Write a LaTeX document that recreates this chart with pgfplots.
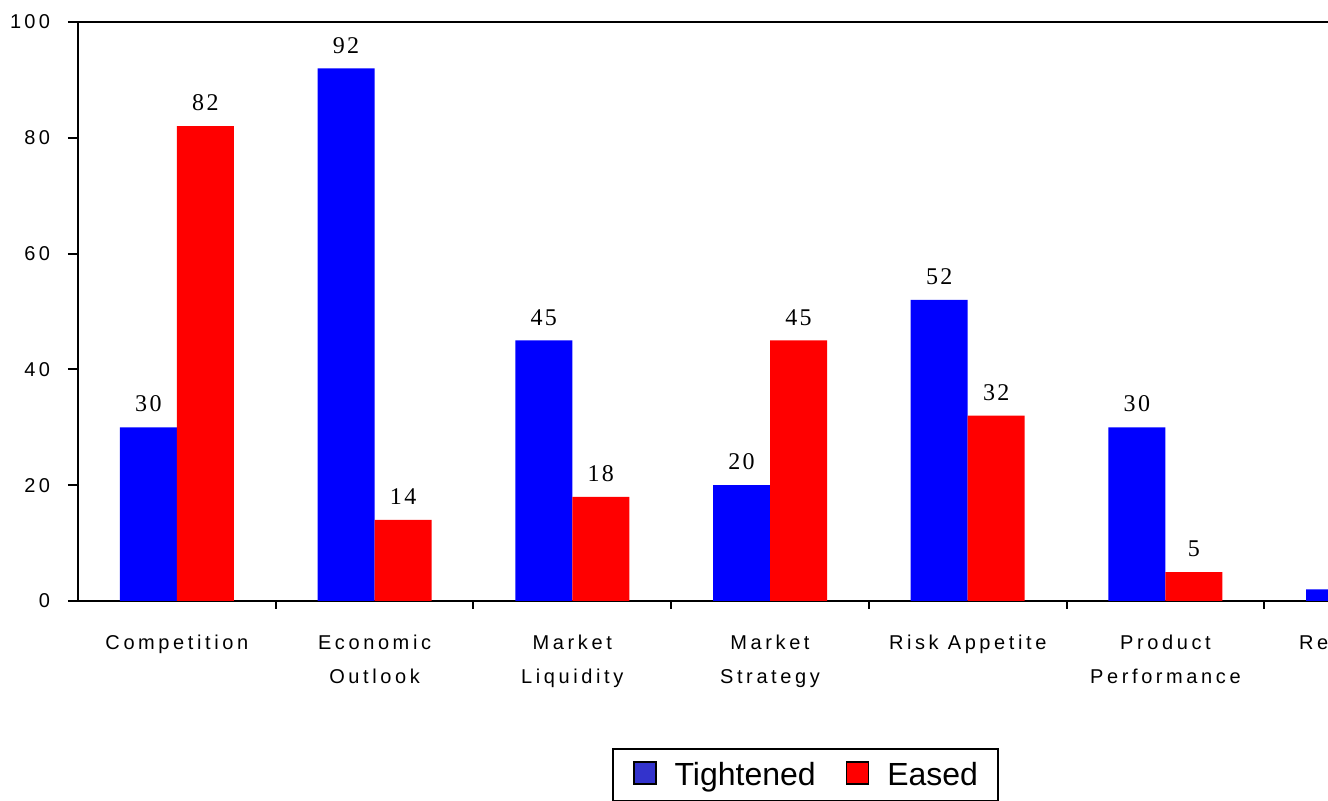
\documentclass[border=0pt]{standalone}
\usepackage{fontspec}
\setmainfont{Liberation Sans}
\newfontfamily\tickfont{Liberation Sans}[LetterSpace=18]
\newfontfamily\ytickfont{Liberation Sans}[LetterSpace=16]
\newfontfamily\valfont{Liberation Serif}[LetterSpace=10]
\usepackage{pgfplots}
\pgfplotsset{compat=1.18}
\definecolor{barblue}{RGB}{0,0,255}
\definecolor{barred}{RGB}{255,0,0}
\definecolor{legblue}{RGB}{51,51,204}
\begin{document}
\begin{tikzpicture}
\begin{axis}[
  at={(39pt,100pt)}, anchor=south west,
  scale only axis, width=692pt, height=289.5pt,
  ybar, bar width=28.5pt,
  xmin=-0.5, xmax=6.5, ymin=0, ymax=100,
  ytick={0,20,...,100},
  xtick={0,...,6},
  xticklabels={Competition, Economic\\Outlook, Market\\Liquidity, Market\\Strategy, Risk Appetite, Product\\Performance, Regulation},
  minor xtick={0.5,1.5,...,6.5},
  major x tick style={draw=none},
  tick align=outside,
  xtick pos=bottom, ytick pos=left,
  major tick length=5pt, minor tick length=4pt,
  every tick/.style={black, line width=1pt},
  minor tick style={black, line width=1pt},
  axis line style={line width=1pt},
  /pgf/number format/assume math mode=true,
  yticklabel style={font=\ytickfont\fontsize{10}{11}\selectfont, xshift=-5.5pt},
  xticklabel style={font=\tickfont\fontsize{10}{17}\selectfont, align=center, anchor=north, yshift=-8.5pt},
  nodes near coords,
  every node near coord/.append style={font=\valfont\fontsize{12}{13}\selectfont, black, yshift=4pt},
  legend columns=2,
  legend style={at={(0.3858,-0.2539)}, anchor=north west, draw=black, line width=1pt,
    font=\fontsize{16}{18}\selectfont, inner xsep=10pt, inner ysep=6pt,
    nodes={inner sep=0pt},
    /tikz/every odd column/.append style={column sep=9pt},
    /tikz/every even column/.append style={column sep=15pt}},
]
\addplot[fill=barblue, draw=none, bar shift=-14.25pt, forget plot] coordinates {(0,30) (1,92) (2,45) (3,20) (4,52) (5,30) (6,2)};
\addplot[fill=barred, draw=none, bar shift=14.25pt, forget plot] coordinates {(0,82) (1,14) (2,18) (3,45) (4,32) (5,5)};
\addlegendimage{legend image code/.code={\draw[fill=legblue, draw=black, line width=0.8pt] (0pt,-4pt) rectangle (11pt,7pt);}}
\addlegendentry{Tightened}
\addlegendimage{legend image code/.code={\draw[fill=barred, draw=black, line width=0.8pt] (0pt,-4pt) rectangle (11pt,7pt);}}
\addlegendentry{Eased}
\end{axis}
\pgfresetboundingbox
\path[use as bounding box] (0,0) rectangle (664pt,400.5pt);
\end{tikzpicture}
\end{document}
